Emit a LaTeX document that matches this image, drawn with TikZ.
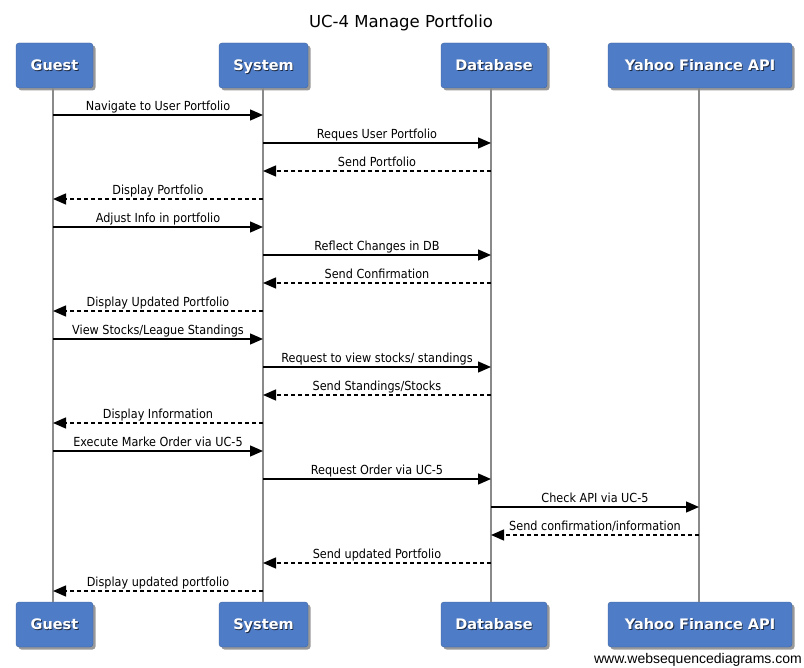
\documentclass[tikz,border=0pt]{standalone}
\usepackage{fontspec}
\setmainfont{DejaVu Sans}
\newfontfamily\condfont{DejaVu Sans Condensed}
\newfontfamily\footfont{Liberation Sans}
\usetikzlibrary{arrows.meta,shadows}
\definecolor{boxblue}{HTML}{4F7CC6}
\definecolor{lifegray}{HTML}{8A8A8A}
\newcommand\shtxt[1]{\rlap{\hspace{0.9pt}\raisebox{-0.9pt}{\textcolor{boxblue!35!black}{#1}}}#1}
\tikzset{
  actor/.style={draw=boxblue!80!black, line width=0.4pt, fill=boxblue, rounded corners=3pt,
    minimum height=45pt, inner sep=0pt, text=white, text height=10.5pt, text depth=0pt,
    font=\bfseries\fontsize{14.5}{17}\selectfont,
    drop shadow={shadow xshift=2.5pt, shadow yshift=-2.5pt, opacity=0.4, fill=black}},
  life/.style={draw=lifegray, line width=1.6pt},
  msg/.style={draw=black, line width=1.3pt, -{Triangle[length=13pt,width=11pt]}},
  reply/.style={msg, dash pattern=on 4pt off 3pt},
  lbl/.style={font=\condfont\fontsize{12.5}{14}\selectfont, inner sep=0pt, anchor=base, yshift=4.5pt}
}
\begin{document}
\begin{tikzpicture}[x=1pt,y=-1pt]
\useasboundingbox (0,0) rectangle (804,668);
\node[font=\fontsize{16.5}{19}\selectfont] (title) at (401,22.5) {UC-4 Manage Portfolio};
% lifelines x: 53, 263, 491, 699
\node[actor, minimum width=77pt] (g) at (54.5,65.5) {\shtxt{Guest}};
\node[actor, minimum width=89pt] (s) at (263.5,65.5) {\shtxt{System}};
\node[actor, minimum width=106pt] (d) at (494,65.5) {\shtxt{Database}};
\node[actor, minimum width=184pt] (y) at (700,65.5) {\shtxt{Yahoo Finance API}};
\node[actor, minimum width=77pt] (g2) at (54.5,624.5) {\shtxt{Guest}};
\node[actor, minimum width=89pt] (s2) at (263.5,624.5) {\shtxt{System}};
\node[actor, minimum width=106pt] (d2) at (494,624.5) {\shtxt{Database}};
\node[actor, minimum width=184pt] (y2) at (700,624.5) {\shtxt{Yahoo Finance API}};
\draw[life] (53,88) coordinate (gt) -- (53,602) coordinate (gb);
\draw[life] (263,88) coordinate (st) -- (263,602) coordinate (sb);
\draw[life] (491,88) coordinate (dt) -- (491,602) coordinate (db);
\draw[life] (699,88) coordinate (yt) -- (699,602) coordinate (yb);
\foreach \i in {1,...,18} {
  \coordinate (G\i) at (53,{87+28*\i});
  \coordinate (S\i) at (263,{87+28*\i});
  \coordinate (D\i) at (491,{87+28*\i});
  \coordinate (Y\i) at (699,{87+28*\i});
}
\draw[msg] (G1) -- node[lbl]{Navigate to User Portfolio} (S1);
\draw[msg] (S2) -- node[lbl]{Reques User Portfolio} (D2);
\draw[reply] (D3) -- node[lbl]{Send Portfolio} (S3);
\draw[reply] (S4) -- node[lbl]{Display Portfolio} (G4);
\draw[msg] (G5) -- node[lbl]{Adjust Info in portfolio} (S5);
\draw[msg] (S6) -- node[lbl]{Reflect Changes in DB} (D6);
\draw[reply] (D7) -- node[lbl]{Send Confirmation} (S7);
\draw[reply] (S8) -- node[lbl]{Display Updated Portfolio} (G8);
\draw[msg] (G9) -- node[lbl]{View Stocks/League Standings} (S9);
\draw[msg] (S10) -- node[lbl]{Request to view stocks/ standings} (D10);
\draw[reply] (D11) -- node[lbl]{Send Standings/Stocks} (S11);
\draw[reply] (S12) -- node[lbl]{Display Information} (G12);
\draw[msg] (G13) -- node[lbl]{Execute Marke Order via UC-5} (S13);
\draw[msg] (S14) -- node[lbl]{Request Order via UC-5} (D14);
\draw[msg] (D15) -- node[lbl]{Check API via UC-5} (Y15);
\draw[reply] (Y16) -- node[lbl]{Send confirmation/information} (D16);
\draw[reply] (D17) -- node[lbl]{Send updated Portfolio} (S17);
\draw[reply] (S18) -- node[lbl]{Display updated portfolio} (G18);
\node[font=\footfont\fontsize{14}{16}\selectfont, anchor=east, inner sep=0pt] (foot) at (802,660) {www.websequencediagrams.com};
\end{tikzpicture}
\end{document}
